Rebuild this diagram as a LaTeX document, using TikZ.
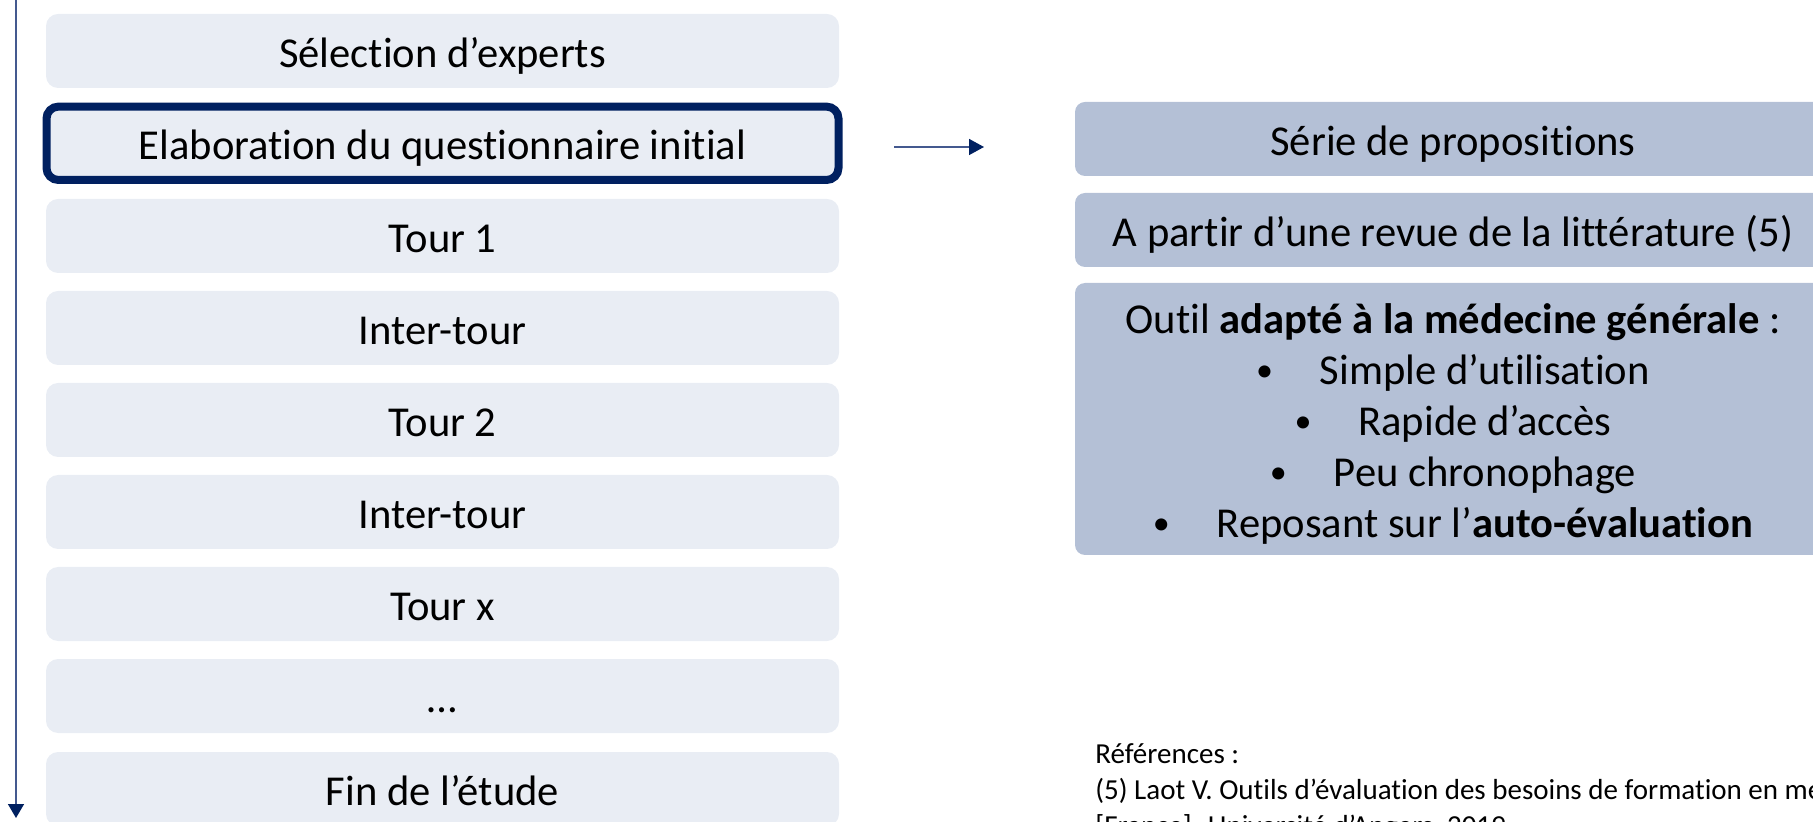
\documentclass[tikz,border=0pt]{standalone}
\usepackage{fontspec}
\setmainfont{Carlito}[Ligatures={TeX,NoCommon}]
\usetikzlibrary{arrows.meta,positioning}

\definecolor{etapeclair}{HTML}{E9EDF4}
\definecolor{etapefonce}{HTML}{B4C0D6}
\definecolor{marine}{HTML}{002060}
\definecolor{flechebleu}{HTML}{44598F}

\newcommand{\puce}{\raisebox{0.07em}{\scalebox{0.8}{•}}\hspace{1.1em}}

\tikzset{
  etape/.style={fill=etapeclair, rounded corners=6pt, minimum width=396.5pt,
    minimum height=37pt, inner sep=0pt, text height=19pt, text depth=2.6pt,
    font=\fontsize{21.3}{25.5}\selectfont},
  propo/.style={fill=etapefonce, rounded corners=5pt, minimum width=378pt,
    minimum height=37pt, inner sep=0pt, align=center, text height=19pt,
    text depth=2.6pt, font=\fontsize{21.3}{25.5}\selectfont},
  fleche/.style={draw=flechebleu, line width=0.75pt,
    -{Triangle[length=7.5pt,width=8pt,color=marine]}},
  refs/.style={anchor=west, inner sep=0pt, font=\fontsize{14.5}{18.5}\selectfont}
}

\begin{document}
\begin{tikzpicture}[x=0.5pt,y=-0.5pt]
    \useasboundingbox (0,0) rectangle (1813,822);

        % déroulement de l'étude
    \node[etape] (selection) at (442.5, 51) {Sélection d’experts};
    \node[etape, draw=marine, line width=4pt, minimum width=396pt, minimum height=36.7pt]
        (questinit) at (442.5,143.3) {Elaboration du questionnaire initial};
    \node[etape] (tourun)    at (442.5,236) {Tour 1};
    \node[etape] (intertun)  at (442.5,328) {Inter-tour};
    \node[etape] (tourdeux)  at (442.5,420) {Tour 2};
    \node[etape] (intertdeux) at (442.5,512) {Inter-tour};
    \node[etape] (tourx)     at (442.5,604) {Tour x};
    \node[etape] (etc)       at (442.5,696) {…};
    \node[etape] (fin)       at (442.5,789) {Fin de l’étude};

        % axe du temps
    \coordinate (tempsdebut) at (16,0);
    \coordinate (tempsfin)   at (16,818);
    \draw[fleche, -{Triangle[length=7pt,width=8pt,color=marine]}] (tempsdebut) -- (tempsfin);

        % questionnaire initial
    \coordinate (versdebut) at (894,147);
    \coordinate (versfin)   at (984,147);
    \draw[fleche] (versdebut) -- (versfin);

    \node[propo] (serie)  at (1453,139) {Série de propositions};
    \node[propo] (revue)  at (1453,230) {A partir d’une revue de la littérature (5)};
    \node[propo, minimum height=136pt, text height=122.5pt, text depth=4pt] (outil) at (1453,419)
        {Outil \textbf{adapté à la médecine générale} :\\
         \puce Simple d’utilisation\\
         \puce Rapide d’accès\\
         \puce Peu chronophage\\
         \puce Reposant sur l’\textbf{auto-évaluation}};

        % références
    \node[refs] (refa) at (1095,754) {Références :};
    \node[refs] (refb) at (1095,791) {(5) Laot V. Outils d’évaluation des besoins de formation en médecine générale};
    \node[refs] (refc) at (1095,828) {[France]. Université d’Angers, 2019};
\end{tikzpicture}
\end{document}
